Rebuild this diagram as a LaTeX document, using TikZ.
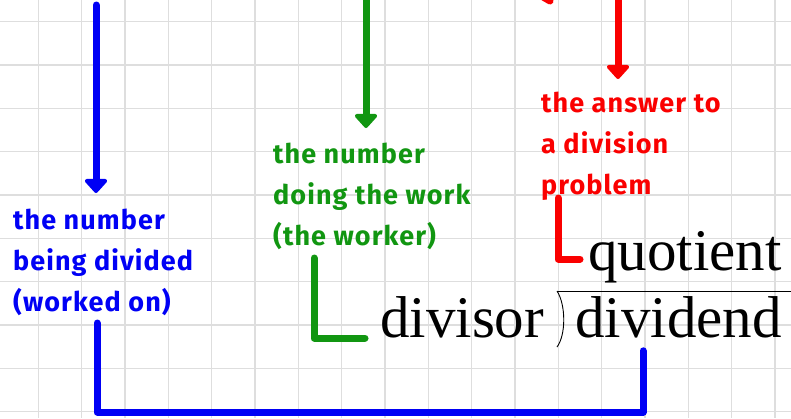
\documentclass[tikz,border=0pt]{standalone}
\usepackage{fontspec}
\setmainfont{Liberation Serif}
\newfontfamily\notefont[LetterSpace=4]{Fira Sans}
\usetikzlibrary{arrows.meta,positioning,calc}
\definecolor{penblue}{RGB}{0,0,245}
\definecolor{pengreen}{RGB}{17,150,17}
\definecolor{penred}{RGB}{250,0,0}
\definecolor{gridgray}{RGB}{222,222,222}

\begin{document}
\begin{tikzpicture}[x=1pt,y=-1pt,
    pen/.style={line width=7pt, line cap=round, line join=round},
    pointer/.style={pen, -{Triangle[width=26pt,length=15pt,round]}},
    note/.style={font=\notefont\bfseries\fontsize{27}{41}\selectfont, align=left, inner sep=0pt, anchor=north west},
    term/.style={font=\fontsize{59}{60}\selectfont, inner sep=0pt, anchor=base west}]
            \useasboundingbox (0,0) rectangle (791,418);
            \clip (0,0) rectangle (791,418);

            % Grid paper
            \foreach \i in {0,...,17}
                \draw[gridgray, line width=1.5pt] ({38.3+43.33*\i},0) -- ++(0,418);
            \foreach \j in {0,...,9}
                \draw[gridgray, line width=1.5pt] (0,{21.7+43.33*\j}) -- ++(791,0);

            % Labels
            \node[note, text=penblue] (dividedlbl) at (13,209) {the number\\being divided\\(worked on)};
            \node[note, text=pengreen] (workerlbl) at (273,143) {the number\\doing the work\\(the worker)};
            \node[note, text=penred] (answerlbl) at (541,92) {the answer to\\a division\\problem};

            % Division layout
            \node[term] (divisor) at (380,337) {divisor};
            \node[term] (dividend) at (575,337) {dividend};
            \node[term] (quotient) at (588,270) {quotient};
            \coordinate (bartop) at (557,291);
            \draw[line width=1pt] (bartop) -- (791,291);
            \draw[line width=0.9pt] (bartop) .. controls (566,305) and (566,335) .. (557,347);

            % Pointers from above
            \coordinate (bluestart) at (96,5);
            \coordinate (greenstart) at (366,-10);
            \coordinate (redstart) at (618,-10);
            \draw[pointer, penblue] (bluestart) -- (bluestart |- dividedlbl.north) [shorten >=16pt];
            \draw[pointer, pengreen] (greenstart) -- (greenstart |- workerlbl.north) [shorten >=15pt];
            \draw[pointer, penred] (redstart) -- (redstart |- answerlbl.north) [shorten >=13pt];
            \draw[pen, penred] (538,-6) -- (550,1);

            % Corners to the terms
            \coordinate (greenfoot) at (314,258);
            \coordinate (redfoot) at (558,198);
            \coordinate (bluefoot) at (97,323);
            \coordinate (bracketcorner) at (643,412);
            \draw[pen, pengreen] (greenfoot) |- ([xshift=-15pt,yshift=-1pt]divisor.base west);
            \draw[pen, penred] (redfoot) |- ([xshift=-8pt,yshift=11pt]quotient.base west);
            \draw[pen, penblue, shorten >=13pt] (bluefoot) |- (bracketcorner) -- (bracketcorner |- dividend.south);
\end{tikzpicture}
\end{document}
